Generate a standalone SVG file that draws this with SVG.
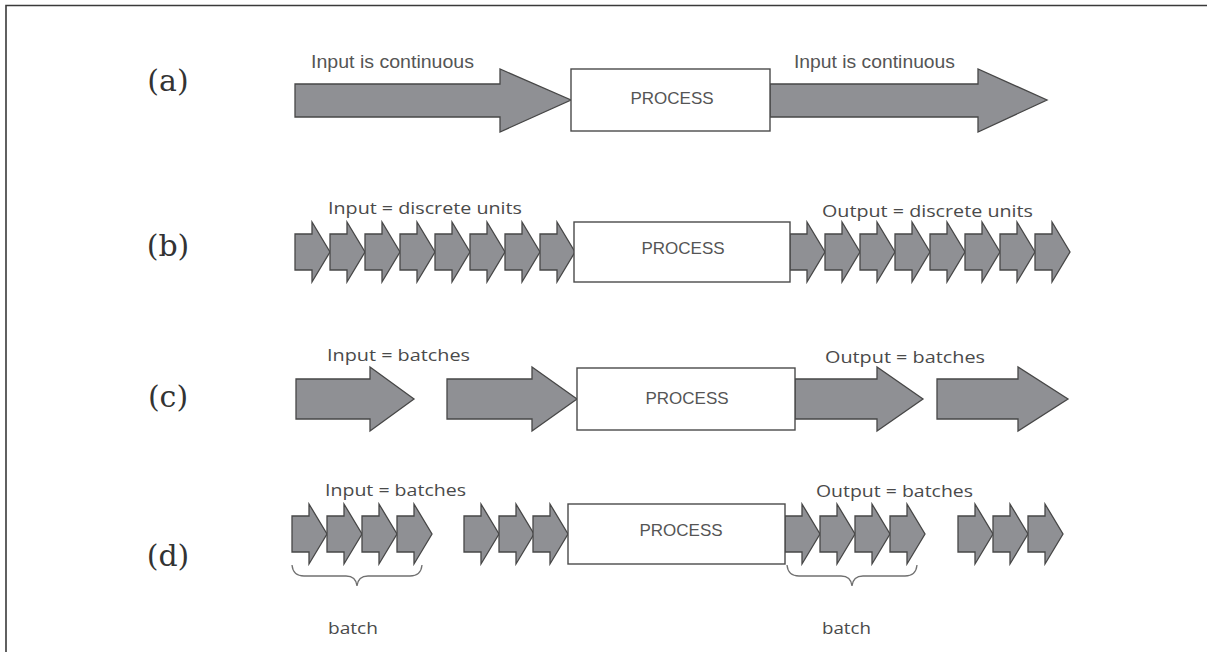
<svg xmlns="http://www.w3.org/2000/svg" xmlns:xlink="http://www.w3.org/1999/xlink" width="1207" height="652" viewBox="0 0 1207 652">
<style>
.frame{fill:none;stroke:#3a3a3a;stroke-width:1.6}
.arr{fill:#8f9094;stroke:#474747;stroke-width:1.3;stroke-linejoin:miter}
.box{fill:#ffffff;stroke:#4a4a4a;stroke-width:1.4}
.tag{font-family:"DejaVu Serif","Liberation Serif",serif;font-size:30px;fill:#333333;text-anchor:middle}
.cal{font-family:"Liberation Sans",Arial,sans-serif;font-size:18px;fill:#555555}
.lbl{font-family:"Open Sans","Noto Sans",sans-serif;font-size:17px;fill:#4a4a4a}
.proc{font-family:"Liberation Sans",Arial,sans-serif;font-size:17px;fill:#555555;text-anchor:middle}
.brace{fill:none;stroke:#707070;stroke-width:1.3}
</style>
<defs>
<path id="unit" d="M0,-18 H17 V-30 L35,0 L17,30 V18 H0 Z"/>
</defs>
<path class="frame" d="M6,652 V5.5 H1207"/>

<g id="labels">
<text class="tag" x="168" y="91">(a)</text>
<text class="tag" x="168" y="256">(b)</text>
<text class="tag" x="168" y="407">(c)</text>
<text class="tag" x="168" y="566">(d)</text>
</g>

<g id="row-a">
<text class="cal" x="311" y="68" textLength="163" lengthAdjust="spacingAndGlyphs">Input is continuous</text>
<text class="cal" x="794" y="68" textLength="161" lengthAdjust="spacingAndGlyphs">Input is continuous</text>
<path class="arr" d="M295,84 H500 V69 L571,100 L500,132 V117 H295 Z"/>
<path class="arr" d="M770,84 H978 V69 L1047,100 L978,132 V117 H770 Z"/>
<g id="process-a"><rect class="box" x="571" y="69" width="199" height="62"/><text class="proc" x="672" y="104">PROCESS</text></g>
</g>

<g id="row-b">
<text class="lbl" x="328" y="214" textLength="194" lengthAdjust="spacingAndGlyphs">Input = discrete units</text>
<text class="lbl" x="822" y="217" textLength="211" lengthAdjust="spacingAndGlyphs">Output = discrete units</text>
<g class="arr">
<use xlink:href="#unit" x="295" y="252"/><use xlink:href="#unit" x="330" y="252"/><use xlink:href="#unit" x="365" y="252"/><use xlink:href="#unit" x="400" y="252"/>
<use xlink:href="#unit" x="435" y="252"/><use xlink:href="#unit" x="470" y="252"/><use xlink:href="#unit" x="505" y="252"/><use xlink:href="#unit" x="540" y="252"/>
<use xlink:href="#unit" x="790" y="252"/><use xlink:href="#unit" x="825" y="252"/><use xlink:href="#unit" x="860" y="252"/><use xlink:href="#unit" x="895" y="252"/>
<use xlink:href="#unit" x="930" y="252"/><use xlink:href="#unit" x="965" y="252"/><use xlink:href="#unit" x="1000" y="252"/><use xlink:href="#unit" x="1035" y="252"/>
</g>
<g id="process-b"><rect class="box" x="574" y="222" width="216" height="60"/><text class="proc" x="683" y="254">PROCESS</text></g>
</g>

<g id="row-c">
<text class="lbl" x="327" y="361" textLength="143" lengthAdjust="spacingAndGlyphs">Input = batches</text>
<text class="lbl" x="825" y="363" textLength="160" lengthAdjust="spacingAndGlyphs">Output = batches</text>
<path class="arr" d="M296,379 H370 V367 L414,399 L370,431 V419 H296 Z"/>
<path class="arr" d="M447,379 H532 V367 L577,399 L532,431 V419 H447 Z"/>
<path class="arr" d="M795,379 H877 V367 L923,399 L877,431 V419 H795 Z"/>
<path class="arr" d="M937,379 H1018 V367 L1068,399 L1018,431 V419 H937 Z"/>
<g id="process-c"><rect class="box" x="577" y="368" width="218" height="62"/><text class="proc" x="687" y="404">PROCESS</text></g>
</g>

<g id="row-d">
<text class="lbl" x="325" y="496" textLength="141" lengthAdjust="spacingAndGlyphs">Input = batches</text>
<text class="lbl" x="816" y="497" textLength="157" lengthAdjust="spacingAndGlyphs">Output = batches</text>
<g class="arr">
<use xlink:href="#unit" x="292" y="534"/><use xlink:href="#unit" x="327" y="534"/><use xlink:href="#unit" x="362" y="534"/><use xlink:href="#unit" x="397" y="534"/>
<use xlink:href="#unit" x="464" y="534"/><use xlink:href="#unit" x="499" y="534"/><use xlink:href="#unit" x="533" y="534"/>
<use xlink:href="#unit" x="785" y="534"/><use xlink:href="#unit" x="820" y="534"/><use xlink:href="#unit" x="855" y="534"/><use xlink:href="#unit" x="890" y="534"/>
<use xlink:href="#unit" x="958" y="534"/><use xlink:href="#unit" x="993" y="534"/><use xlink:href="#unit" x="1028" y="534"/>
</g>
<g id="process-d"><rect class="box" x="568" y="504" width="217" height="60"/><text class="proc" x="681" y="536">PROCESS</text></g>
<path class="brace" d="M292,565 Q293,576 304,576 H346 Q356,576 357,586 Q358,576 368,576 H410 Q421,576 422,565"/>
<path class="brace" d="M787,565 Q788,576 799,576 H841 Q851,576 852,586 Q853,576 863,576 H905 Q916,576 917,565"/>
<text class="lbl" x="328" y="634" textLength="50" lengthAdjust="spacingAndGlyphs">batch</text>
<text class="lbl" x="822" y="634" textLength="49" lengthAdjust="spacingAndGlyphs">batch</text>
</g>
</svg>
